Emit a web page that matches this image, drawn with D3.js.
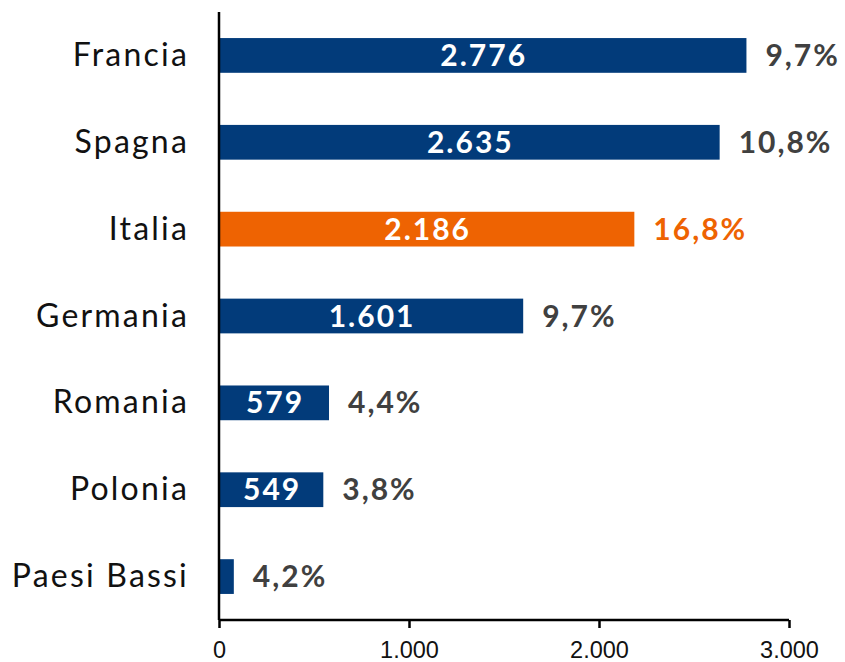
<!DOCTYPE html>
<html>
<head>
<meta charset="utf-8">
<script src="https://cdn.jsdelivr.net/npm/d3@7.9.0/dist/d3.min.js"></script>
<style>
  body { margin: 0; background: #fff; }
  svg { display: block; }
</style>
</head>
<body>
<svg id="chart" width="845" height="662"></svg>
<script>
const countries = ["Francia", "Spagna", "Italia", "Germania", "Romania", "Polonia", "Paesi Bassi"];
const values = [2776, 2635, 2186, 1601, 579, 549, 78];
const valueLabels = ["2.776", "2.635", "2.186", "1.601", "579", "549", ""];
const shares = ["9,7%", "10,8%", "16,8%", "9,7%", "4,4%", "3,8%", "4,2%"];
const ticks = [0, 1000, 2000, 3000];
const tickLabels = ["0", "1.000", "2.000", "3.000"];
const highlight = "Italia";

const navy = "#023b7a";
const orange = "#ee6302";
const grey = "#404040";
const labelFont = "'Century Gothic', Lato, 'Noto Sans', sans-serif";

const svg = d3.select("#chart");
const plotLeft = 219, plotRight = 789, plotTop = 12, plotBottom = 620;

const x = d3.scaleLinear().domain([0, 3000]).range([plotLeft, plotRight]);
const y = d3.scaleBand()
  .domain(countries)
  .range([plotTop, plotBottom])
  .paddingInner(0.6)
  .paddingOuter(0.3);

const data = countries.map((c, i) => ({
  country: c,
  value: values[i],
  label: valueLabels[i],
  share: shares[i],
}));

// bars
svg.append("g")
  .selectAll("rect")
  .data(data)
  .join("rect")
  .attr("x", x(0))
  .attr("y", (d) => y(d.country))
  .attr("width", (d) => x(d.value) - x(0))
  .attr("height", y.bandwidth())
  .attr("fill", (d) => (d.country === highlight ? orange : navy));

// value labels inside bars
svg.append("g")
  .selectAll("text")
  .data(data)
  .join("text")
  .attr("x", (d) => (x(0) + x(d.value)) / 2 + 1)
  .attr("y", (d) => y(d.country) + y.bandwidth() / 2)
  .attr("dy", "0.35em")
  .attr("text-anchor", "middle")
  .attr("fill", "#fff")
  .attr("font-family", labelFont)
  .attr("font-weight", "bold")
  .attr("font-size", 30)
  .attr("letter-spacing", 2)
  .text((d) => d.label);

// share labels
svg.append("g")
  .selectAll("text")
  .data(data)
  .join("text")
  .attr("x", (d) => x(d.value) + 19)
  .attr("y", (d) => y(d.country) + y.bandwidth() / 2)
  .attr("dy", "0.35em")
  .attr("fill", (d) => (d.country === highlight ? orange : grey))
  .attr("font-family", labelFont)
  .attr("font-weight", "bold")
  .attr("font-size", 30)
  .attr("letter-spacing", 2)
  .text((d) => d.share);

// category labels
svg.append("g")
  .selectAll("text")
  .data(data)
  .join("text")
  .attr("x", 189)
  .attr("y", (d) => y(d.country) + y.bandwidth() / 2)
  .attr("dy", "0.33em")
  .attr("text-anchor", "end")
  .attr("fill", "#111")
  .attr("font-family", labelFont)
  .attr("font-size", 32)
  .attr("letter-spacing", 2.2)
  .text((d) => d.country);

// x axis
const xAxis = svg.append("g")
  .attr("transform", `translate(0,${plotBottom})`)
  .call(d3.axisBottom(x).tickValues(ticks).tickFormat((d, i) => tickLabels[i]).tickSize(8).tickPadding(13));
xAxis.select(".domain").attr("stroke", "#000").attr("stroke-width", 2.5).attr("d", `M${plotLeft},0H${plotRight}`);
xAxis.selectAll(".tick line").attr("stroke", "#000").attr("stroke-width", 2.5);
xAxis.selectAll(".tick text")
  .attr("font-family", "'Liberation Sans', Arial, sans-serif")
  .attr("font-size", 23.5)
  .attr("fill", "#111");

// y axis line
svg.append("line")
  .attr("x1", plotLeft).attr("x2", plotLeft)
  .attr("y1", plotTop).attr("y2", plotBottom)
  .attr("stroke", "#000")
  .attr("stroke-width", 2.5);
</script>
</body>
</html>
